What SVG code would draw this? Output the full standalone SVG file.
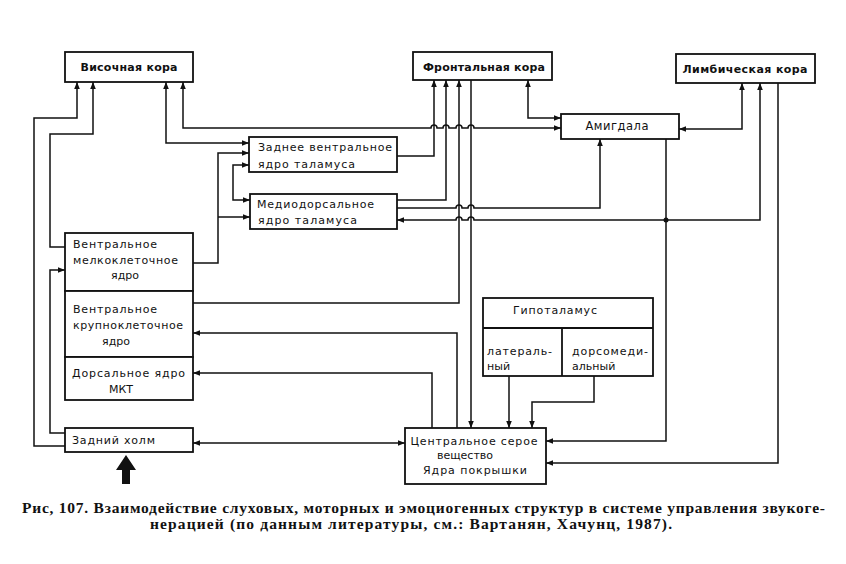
<svg xmlns="http://www.w3.org/2000/svg" width="846" height="564" viewBox="0 0 846 564">
<style>
.box{fill:#fff;stroke:#111;stroke-width:1.8}
.c{fill:none;stroke:#111;stroke-width:1.5}
.t{font-family:"DejaVu Sans",sans-serif;font-size:11px;fill:#111}
.b{font-weight:bold}
.m{text-anchor:middle}
.cap{font-family:"Liberation Serif",serif;font-size:15.5px;font-weight:bold;fill:#111}
</style>
<defs>
<marker id="a" viewBox="0 0 10 10" refX="10" refY="5" markerWidth="8" markerHeight="7" markerUnits="userSpaceOnUse" orient="auto-start-reverse"><path d="M0,1 L10,5 L0,9 z" fill="#111"/></marker>
</defs>
<rect width="846" height="564" fill="#fff"/>

<g id="connectors">
<path class="c" d="M65,446 H34 V118 H77 V82" marker-end="url(#a)"/>
<path class="c" d="M65,247 H50 V134 H93 V82" marker-end="url(#a)"/>
<path class="c" d="M65,433 H50 V270 H65" marker-end="url(#a)"/>
<path class="c" d="M166,82 V143 H249" marker-start="url(#a)" marker-end="url(#a)"/>
<path class="c" d="M183,82 V128 H431 a3,3 0 0 1 6,0 H443 a3,3 0 0 1 6,0 H456 a3,3 0 0 1 6,0 H468 a3,3 0 0 1 6,0 H561" marker-start="url(#a)" marker-end="url(#a)"/>
<path class="c" d="M193,263 H218 V153 H249" marker-end="url(#a)"/>
<path class="c" d="M218,217 H250" marker-end="url(#a)"/>
<path class="c" d="M249,165 H233 V200 H250" marker-start="url(#a)" marker-end="url(#a)"/>
<path class="c" d="M397,156 H434 V80" marker-end="url(#a)"/>
<path class="c" d="M397,200 H446 V80" marker-end="url(#a)"/>
<path class="c" d="M193,303 H459 V80" marker-end="url(#a)"/>
<path class="c" d="M471,80 V428" marker-end="url(#a)"/>
<path class="c" d="M528,80 V118 H561" marker-start="url(#a)" marker-end="url(#a)"/>
<path class="c" d="M397,208 H456 a3,3 0 0 1 6,0 H468 a3,3 0 0 1 6,0 H600 V139" marker-end="url(#a)"/>
<path class="c" d="M760,83 V220 H474 a3,3 0 0 0 -6,0 H462 a3,3 0 0 0 -6,0 H397" marker-start="url(#a)" marker-end="url(#a)"/>
<path class="c" d="M666,139 V441 H546" marker-end="url(#a)"/>
<circle cx="666" cy="220" r="2.5" fill="#111"/>
<path class="c" d="M742,83 V129 H679" marker-start="url(#a)" marker-end="url(#a)"/>
<path class="c" d="M778,83 V463 H546" marker-end="url(#a)"/>
<path class="c" d="M457,428 V333 H193" marker-end="url(#a)"/>
<path class="c" d="M432,428 V373 H193" marker-end="url(#a)"/>
<path class="c" d="M193,443 H405" marker-start="url(#a)" marker-end="url(#a)"/>
<path class="c" d="M509,376 V428" marker-end="url(#a)"/>
<path class="c" d="M594,376 V402 H532 V428" marker-end="url(#a)"/>
<polygon points="126,455 136,470 130,470 130,484 122,484 122,470 116,470" fill="#111"/>
</g>

<g id="temporal">
<rect class="box" x="65" y="52" width="128" height="30"/>
<text class="t b m" x="129" y="71" textLength="97" lengthAdjust="spacing">Височная кора</text>
</g>
<g id="frontal">
<rect class="box" x="413" y="52" width="139" height="28"/>
<text class="t b m" x="484" y="71" textLength="122" lengthAdjust="spacing">Фронтальная кора</text>
</g>
<g id="limbic">
<rect class="box" x="676" y="54" width="139" height="29"/>
<text class="t b m" x="745" y="73" textLength="125" lengthAdjust="spacing">Лимбическая кора</text>
</g>
<g id="amygdala">
<rect class="box" x="561" y="114" width="118" height="25"/>
<text class="t m" x="617" y="130" textLength="63" lengthAdjust="spacing" style="font-size:11.5px">Амигдала</text>
</g>
<g id="pvn">
<rect class="box" x="249" y="137" width="148" height="35"/>
<text class="t" x="258" y="151" textLength="134" lengthAdjust="spacing">Заднее вентральное</text>
<text class="t" x="258" y="168" textLength="97" lengthAdjust="spacing">ядро таламуса</text>
</g>
<g id="md">
<rect class="box" x="250" y="194" width="147" height="35"/>
<text class="t" x="257" y="208" textLength="117" lengthAdjust="spacing">Медиодорсальное</text>
<text class="t" x="258" y="224" textLength="99" lengthAdjust="spacing">ядро таламуса</text>
</g>
<g id="vmk">
<rect class="box" x="65" y="233" width="128" height="58"/>
<text class="t" x="73" y="248" textLength="84" lengthAdjust="spacing">Вентральное</text>
<text class="t" x="73" y="264" textLength="105" lengthAdjust="spacing">мелкоклеточное</text>
<text class="t m" x="125" y="279">ядро</text>
</g>
<g id="vkk">
<rect class="box" x="65" y="291" width="128" height="66"/>
<text class="t" x="73" y="313" textLength="84" lengthAdjust="spacing">Вентральное</text>
<text class="t" x="73" y="329" textLength="110" lengthAdjust="spacing">крупноклеточное</text>
<text class="t m" x="116" y="345">ядро</text>
</g>
<g id="dorsal">
<rect class="box" x="65" y="357" width="128" height="43"/>
<text class="t" x="72" y="377" textLength="113" lengthAdjust="spacing">Дорсальное ядро</text>
<text class="t m" x="121" y="393">МКТ</text>
</g>
<g id="ic">
<rect class="box" x="65" y="428" width="128" height="24"/>
<text class="t" x="72" y="444" textLength="83" lengthAdjust="spacing">Задний холм</text>
</g>
<g id="csv">
<rect class="box" x="405" y="428" width="141" height="56"/>
<text class="t m" x="474" y="445" textLength="127" lengthAdjust="spacing">Центральное серое</text>
<text class="t m" x="465" y="459">вещество</text>
<text class="t m" x="475" y="474" textLength="104" lengthAdjust="spacing">Ядра покрышки</text>
</g>
<g id="hypothalamus">
<rect class="box" x="483" y="298" width="170" height="78"/>
<line class="c" x1="483" y1="328" x2="653" y2="328" style="stroke-width:1.8"/>
<line class="c" x1="562" y1="328" x2="562" y2="376" style="stroke-width:1.8"/>
<text class="t m" x="555" y="314" textLength="84" lengthAdjust="spacing">Гипоталамус</text>
<text class="t" x="487" y="355" textLength="65" lengthAdjust="spacing">латераль-</text>
<text class="t" x="487" y="370">ный</text>
<text class="t" x="572" y="355" textLength="76" lengthAdjust="spacing">дорсомеди-</text>
<text class="t" x="572" y="370">альный</text>
</g>

<text class="cap" x="22" y="513" textLength="803" lengthAdjust="spacing">Рис, 107. Взаимодействие слуховых, моторных и эмоциогенных структур в системе управления  звукоге-</text>
<text class="cap" x="150" y="529" textLength="522" lengthAdjust="spacing">нерацией (по данным литературы, см.:  Вартанян, Хачунц,  1987).</text>
</svg>
